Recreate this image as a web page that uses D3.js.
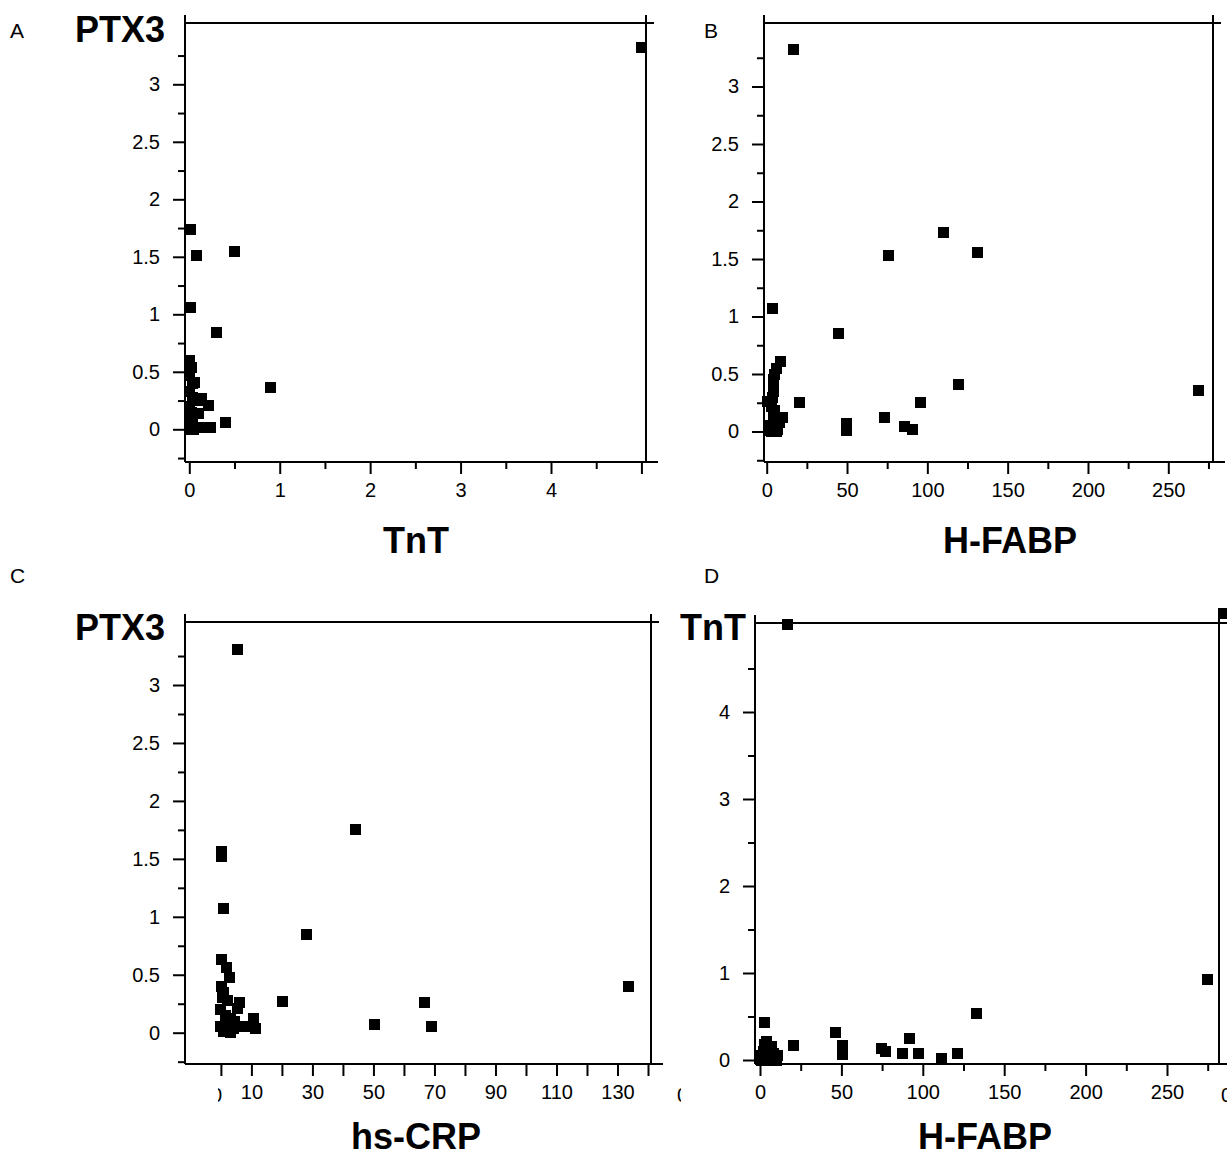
<!DOCTYPE html>
<html>
<head>
<meta charset="utf-8">
<script src="https://cdn.jsdelivr.net/npm/d3@7"></script>
<style>
  body { margin: 0; background: #fff; }
  svg { display: block; }
  text { font-family: "Liberation Sans", Arial, sans-serif; fill: #000; }
</style>
</head>
<body>
<svg id="chart" width="1227" height="1157"></svg>
<script>
// ==================== DATA ====================
// Panel A : TnT (x) vs PTX3 (y)
const tntA  = [5.0, 0.01, 0.075, 0.5, 0.01, 0.3, 0.9, 0.4,
               0.0, 0.02, 0.0, 0.03, 0.06, 0.0, 0.04, 0.1, 0.14, 0.21, 0.0, 0.1, 0.03, 0.0, 0.12, 0.23, 0.05, 0.0, 0.02];
const ptx3A = [3.32, 1.74, 1.51, 1.55, 1.06, 0.84, 0.36, 0.06,
               0.6, 0.54, 0.47, 0.4, 0.41, 0.33, 0.28, 0.25, 0.27, 0.21, 0.2, 0.14, 0.1, 0.05, 0.02, 0.02, 0.0, 0.0, 0.15];

// Panel B : H-FABP (x) vs PTX3 (y)
const hfabpB = [16.4, 110, 131, 75.9, 3.3, 45, 119.7, 269, 20.7, 95.5, 73.5, 49.4, 49.4, 86, 90.5,
                8.3, 6, 5, 4.5, 4, 4.5, 3.5, 0.5, 3, 5, 4, 10, 8, 2, 5, 7, 1, 3, 6];
const ptx3B  = [3.32, 1.73, 1.56, 1.53, 1.07, 0.85, 0.41, 0.36, 0.25, 0.25, 0.12, 0.07, 0.01, 0.04, 0.02,
                0.61, 0.55, 0.5, 0.45, 0.4, 0.35, 0.3, 0.26, 0.22, 0.18, 0.14, 0.12, 0.08, 0.05, 0.04, 0.02, 0.01, 0.0, 0.0];

// Panel C : hs-CRP (x) vs PTX3 (y)
const crpC  = [5.3, 44, 27.9, 0.3, 0.3, 1.0, 20.3, 50.5, 66.9, 68.9, 133.5,
               0.3, 1.9, 2.8, 0.3, 1, 0.5, 2, 6, 5.5, 0, 1.5, 3, 4.5, 10.6, 0, 2, 4, 6, 8, 11.2, 1, 3];
const ptx3C = [3.31, 1.75, 0.85, 1.56, 1.52, 1.07, 0.27, 0.07, 0.26, 0.05, 0.4,
               0.63, 0.56, 0.48, 0.4, 0.35, 0.3, 0.28, 0.26, 0.21, 0.2, 0.15, 0.12, 0.1, 0.12, 0.05, 0.03, 0.04, 0.05, 0.05, 0.04, 0.01, 0.0];

// Panel D : H-FABP (x) vs TnT (y)
const hfabpD = [16.7, 285, 46.3, 50.6, 50.6, 74.7, 77, 87.7, 92, 97.5, 111.7, 121.6, 132.7, 274.7, 20.4, 2.5,
                4, 3, 7, 2, 5, 8, 11, 1, 6, 10, 0.5];
const tntD   = [5.01, 5.13, 0.32, 0.17, 0.06, 0.13, 0.1, 0.08, 0.25, 0.08, 0.02, 0.08, 0.53, 0.92, 0.17, 0.43,
                0.21, 0.18, 0.15, 0.1, 0.05, 0.08, 0.05, 0.0, 0.0, 0.0, 0.05];

// tick values and labels
const tntTicks       = [0, 1, 2, 3, 4, 5];
const tntTickLabels  = ["0", "1", "2", "3", "4", ""];
const tntMinor       = [0.5, 1.5, 2.5, 3.5, 4.5];
const ptx3Ticks      = [0, 0.5, 1, 1.5, 2, 2.5, 3];
const ptx3TickLabels = ["0", "0.5", "1", "1.5", "2", "2.5", "3"];
const ptx3Minor      = [-0.25, 0.25, 0.75, 1.25, 1.75, 2.25, 2.75, 3.25];
const hfabpTicks      = [0, 50, 100, 150, 200, 250];
const hfabpTickLabels = ["0", "50", "100", "150", "200", "250"];
const hfabpMinor      = [25, 75, 125, 175, 225, 275];
const crpTicks      = [0, 10, 20, 30, 40, 50, 60, 70, 80, 90, 100, 110, 120, 130, 140];
const crpTickLabels = ["", "10", "", "30", "", "50", "", "70", "", "90", "", "110", "", "130", ""];
const tntYTicks      = [0, 1, 2, 3, 4];
const tntYTickLabels = ["0", "1", "2", "3", "4"];
const tntYMinor      = [0.5, 1.5, 2.5, 3.5, 4.5];

// ==================== DRAW ====================
const svg = d3.select("#chart");
const FONT = "Liberation Sans, Arial, sans-serif";
const TICK_FONT = 20;

function styleAxis(g){
    g.attr("font-family", FONT).attr("font-size", TICK_FONT);
    g.select(".domain").remove();
    g.selectAll("line").attr("stroke", "#000").attr("stroke-width", 2);
    g.selectAll("text").attr("fill", "#000");
}

function drawPanel(p){
    const x = d3.scaleLinear().domain(p.xCal).range(p.xPx);
    const y = d3.scaleLinear().domain(p.yCal).range(p.yPx);
    const [L, T, R, B] = p.frame;
    const g = svg.append("g");

    // x axis (major + minor)
    const xl = new Map(p.xTicks.map((v, i) => [v, p.xLabels[i]]));
    g.append("g").attr("transform", `translate(0,${B})`)
        .call(d3.axisBottom(x).tickValues(p.xTicks).tickSize(12).tickPadding(9).tickFormat(d => xl.get(d)))
        .call(styleAxis);
    if(p.xMinor) g.append("g").attr("transform", `translate(0,${B})`)
        .call(d3.axisBottom(x).tickValues(p.xMinor).tickSize(7).tickFormat(""))
        .call(styleAxis);

    // y axis (major + minor)
    const yl = new Map(p.yTicks.map((v, i) => [v, p.yLabels[i]]));
    g.append("g").attr("transform", `translate(${L},0)`)
        .call(d3.axisLeft(y).tickValues(p.yTicks).tickSize(12).tickPadding(13).tickFormat(d => yl.get(d)))
        .call(styleAxis);
    g.append("g").attr("transform", `translate(${L},0)`)
        .call(d3.axisLeft(y).tickValues(p.yMinor).tickSize(7).tickFormat(""))
        .call(styleAxis);

    // frame
    const frame = [
        [L, T - 8, L, B],
        [L, B, R + 12, B],
        [L, T, R + 8, T],
        [R, T - 8, R, B]
    ];
    g.selectAll("line.frame").data(frame).join("line")
        .attr("class", "frame")
        .attr("x1", d => d[0]).attr("y1", d => d[1])
        .attr("x2", d => d[2]).attr("y2", d => d[3])
        .attr("stroke", "#000").attr("stroke-width", 2);

    // points
    const pts = p.xs.map((v, i) => [v, p.ys[i]]);
    g.selectAll("rect.pt").data(pts).join("rect")
        .attr("class", "pt")
        .attr("x", d => Math.round(x(d[0]) - 5.5))
        .attr("y", d => Math.round(y(d[1]) - 5.5))
        .attr("width", 11).attr("height", 11)
        .attr("fill", "#000")
        .attr("shape-rendering", "crispEdges");

    // titles
    g.append("text").attr("x", p.xTitle[1]).attr("y", p.xTitle[2])
        .attr("text-anchor", "middle").attr("font-size", 36).attr("font-weight", "bold")
        .text(p.xTitle[0]);
    if(p.yTitle) g.append("text").attr("x", p.yTitle[1]).attr("y", p.yTitle[2])
        .attr("text-anchor", "end").attr("font-size", 36).attr("font-weight", "bold")
        .text(p.yTitle[0]);
    g.append("text").attr("x", p.letter[1]).attr("y", p.letter[2])
        .attr("font-size", 21).text(p.letter[0]);
}

drawPanel({
    xs: tntA, ys: ptx3A,
    xCal: [0, 4], xPx: [189.3, 551], yCal: [0, 3], yPx: [429.3, 84.3],
    frame: [185, 23, 646, 462],
    xTicks: tntTicks, xLabels: tntTickLabels, xMinor: tntMinor,
    yTicks: ptx3Ticks, yLabels: ptx3TickLabels, yMinor: ptx3Minor,
    xTitle: ["TnT", 416, 553], yTitle: ["PTX3", 165, 42], letter: ["A", 10, 38]
});

drawPanel({
    xs: hfabpB, ys: ptx3B,
    xCal: [0, 250], xPx: [766.7, 1168.3], yCal: [0, 3], yPx: [431.5, 86.5],
    frame: [764, 23, 1213, 462],
    xTicks: hfabpTicks, xLabels: hfabpTickLabels, xMinor: hfabpMinor,
    yTicks: ptx3Ticks, yLabels: ptx3TickLabels, yMinor: ptx3Minor,
    xTitle: ["H-FABP", 1010, 553], yTitle: null, letter: ["B", 704, 38]
});

drawPanel({
    xs: crpC, ys: ptx3C,
    xCal: [0, 130], xPx: [220.9, 617.5], yCal: [0, 3], yPx: [1032.7, 685],
    frame: [185, 622, 651, 1064],
    xTicks: crpTicks, xLabels: crpTickLabels, xMinor: null,
    yTicks: ptx3Ticks, yLabels: ptx3TickLabels, yMinor: ptx3Minor,
    xTitle: ["hs-CRP", 416, 1149], yTitle: ["PTX3", 165, 640], letter: ["C", 10, 583]
});

drawPanel({
    xs: hfabpD, ys: tntD,
    xCal: [0, 250], xPx: [760, 1167], yCal: [0, 4], yPx: [1060, 712],
    frame: [755, 623, 1219, 1064],
    xTicks: hfabpTicks, xLabels: hfabpTickLabels, xMinor: hfabpMinor,
    yTicks: tntYTicks, yLabels: tntYTickLabels, yMinor: tntYMinor,
    xTitle: ["H-FABP", 985, 1149], yTitle: ["TnT", 746, 640], letter: ["D", 704, 583]
});

// clipped edge labels of the hs-CRP axis and H-FABP axis
const defs = svg.append("defs");
defs.append("clipPath").attr("id", "clipL").append("rect").attr("x", 218).attr("y", 1070).attr("width", 20).attr("height", 40);
defs.append("clipPath").attr("id", "clipR").append("rect").attr("x", 660).attr("y", 1070).attr("width", 21).attr("height", 40);
svg.append("text").attr("clip-path", "url(#clipL)").attr("x", 222).attr("y", 1102)
    .attr("text-anchor", "end").attr("font-size", TICK_FONT).text("0");
svg.append("text").attr("clip-path", "url(#clipR)").attr("x", 677).attr("y", 1102)
    .attr("font-size", TICK_FONT).text("0");
svg.append("text").attr("x", 1221).attr("y", 1102).attr("font-size", TICK_FONT).text("0");
</script>
</body>
</html>
